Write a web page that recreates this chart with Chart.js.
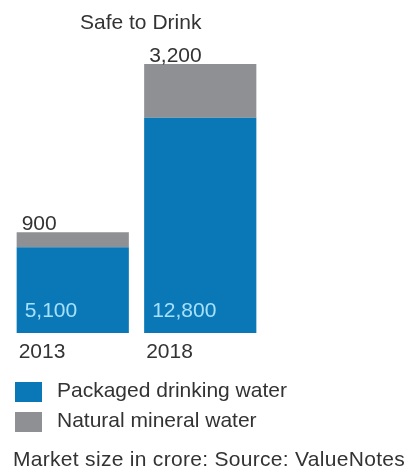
<!DOCTYPE html>
<html lang="en">
<head>
  <meta charset="UTF-8" />
  <title>Safe to Drink</title>
  <script src="https://cdn.jsdelivr.net/npm/chart.js"></script>
  <style>
    body {
      margin: 0;
      width: 414px;
      height: 472px;
      position: relative;
      overflow: hidden;
      background: #fff;
      font-family: "Liberation Sans", Arial, sans-serif;
      font-size: 21px;
      line-height: 24px;
      color: #333;
    }
    #chartBox {
      position: absolute;
      left: 0;
      top: 0;
      width: 414px;
      height: 472px;
    }
    .title {
      position: absolute;
      left: 80px;
      top: 10px;
      white-space: nowrap;
    }
    .legend-item {
      position: absolute;
      left: 15px;
      white-space: nowrap;
    }
    .legend-item span.box {
      position: absolute;
      left: 0;
      width: 27px;
      height: 20px;
    }
    .legend-item span.txt {
      position: absolute;
      left: 42px;
      top: 0;
    }
    .footer {
      position: absolute;
      left: 13px;
      top: 447px;
      white-space: nowrap;
      letter-spacing: 0.3px;
    }
  </style>
</head>
<body>
  <div id="chartBox"><canvas id="chart" width="414" height="472"></canvas></div>
  <div class="title">Safe to Drink</div>
  <div id="legend"></div>
  <div class="footer">Market size in crore: Source: ValueNotes</div>

  <script>
    const years = ['2013', '2018'];
    const packaged = [5100, 12800];
    const mineral = [900, 3200];
    const seriesNames = ['Packaged drinking water', 'Natural mineral water'];
    const colors = ['#0a77b7', '#8e9094'];

    // legend
    const legend = document.getElementById('legend');
    seriesNames.forEach((name, i) => {
      const item = document.createElement('div');
      item.className = 'legend-item';
      item.style.top = (378 + i * 30) + 'px';
      item.innerHTML = '<span class="box" style="top:4px;background:' + colors[i] + '"></span>' +
        '<span class="txt">' + name + '</span>';
      legend.appendChild(item);
    });

    const fmt = v => v.toLocaleString('en-US');

    const labelPlugin = {
      id: 'barLabels',
      afterDatasetsDraw(chart) {
        const ctx = chart.ctx;
        const base = chart.getDatasetMeta(0);
        const top = chart.getDatasetMeta(1);
        ctx.save();
        ctx.font = '21px "Liberation Sans", Arial, sans-serif';
        ctx.textAlign = 'left';
        ctx.textBaseline = 'alphabetic';
        base.data.forEach((bar, i) => {
          const left = bar.x - bar.width / 2;
          // value inside the blue bar
          ctx.fillStyle = '#a6e1fb';
          ctx.fillText(fmt(packaged[i]), left + 8, bar.base - 16);
          // category under the bar
          ctx.fillStyle = '#333';
          ctx.fillText(years[i], left + 2, bar.base + 25);
          // mineral value above the stack
          const tb = top.data[i];
          ctx.fillText(fmt(mineral[i]), left + 5, tb.y - 2);
        });
        ctx.restore();
      }
    };

    new Chart(document.getElementById('chart'), {
      type: 'bar',
      data: {
        labels: years,
        datasets: [
          { label: seriesNames[0], data: packaged, backgroundColor: colors[0] },
          { label: seriesNames[1], data: mineral, backgroundColor: colors[1] }
        ]
      },
      options: {
        responsive: false,
        animation: false,
        events: [],
        layout: { padding: { left: 9, right: 150, top: 64, bottom: 139 } },
        datasets: { bar: { categoryPercentage: 1, barPercentage: 0.88 } },
        scales: {
          x: { stacked: true, display: false },
          y: { stacked: true, display: false, min: 0, max: 16000 }
        },
        plugins: {
          legend: { display: false },
          tooltip: { enabled: false }
        }
      },
      plugins: [labelPlugin]
    });
  </script>
</body>
</html>
